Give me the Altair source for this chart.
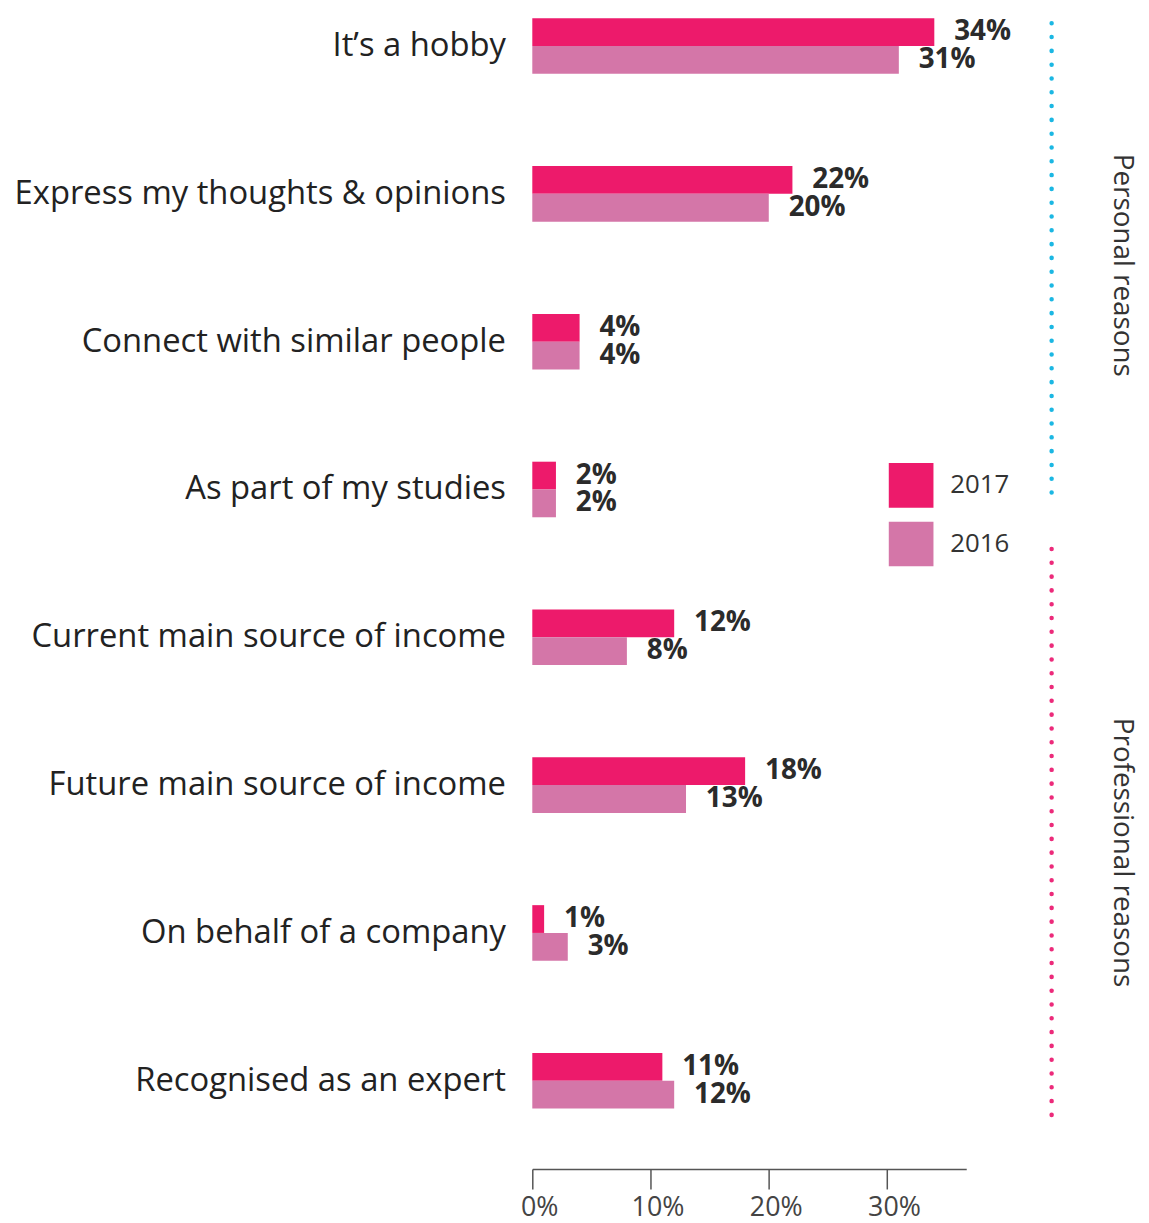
import altair as alt
import pandas as pd

categories = [
    "It’s a hobby",
    "Express my thoughts & opinions",
    "Connect with similar people",
    "As part of my studies",
    "Current main source of income",
    "Future main source of income",
    "On behalf of a company",
    "Recognised as an expert",
]
values_2017 = [34, 22, 4, 2, 12, 18, 1, 11]
values_2016 = [31, 20, 4, 2, 8, 13, 3, 12]
years = ["2017", "2016"]
year_colors = ["#ED1A6B", "#D476A8"]
tick_values = [0, 10, 20, 30]

groups = ["Personal reasons", "Professional reasons"]
group_first = ["It’s a hobby", "Current main source of income"]
group_last = ["As part of my studies", "Recognised as an expert"]
group_anchor = ["Connect with similar people", "On behalf of a company"]
group_colors = ["#1BB7E3", "#EC2A7A"]

rows = []
for c, a, b in zip(categories, values_2017, values_2016):
    rows.append({"category": c, "year": "2017", "value": a, "label": f"{a}%"})
    rows.append({"category": c, "year": "2016", "value": b, "label": f"{b}%"})
df = pd.DataFrame(rows)

ydom = alt.Scale(domain=categories, paddingInner=0.624, paddingOuter=0)

y_enc = alt.Y(
    "category:N",
    sort=categories,
    scale=ydom,
    axis=alt.Axis(
        title=None, domain=False, ticks=False, labelFontSize=33,
        labelFontWeight=500, labelColor="#222", labelPadding=27, labelLimit=700,
    ),
)
x_enc = alt.X(
    "value:Q",
    scale=alt.Scale(domain=[0, 36.7], nice=False, zero=True),
    axis=alt.Axis(
        title=None, grid=False, values=tick_values, labelExpr="datum.value + '%'",
        tickSize=20, tickColor="#555", tickWidth=1.5, domainColor="#555",
        domainWidth=1.5, labelFontSize=27, labelColor="#444", labelPadding=6,
        labelOffset=7, offset=61, labelFlush=False,
    ),
)
yoff = alt.YOffset("year:N", sort=years, scale=alt.Scale(paddingInner=0, paddingOuter=0))

base = alt.Chart(df)

bars = base.mark_bar().encode(
    y=y_enc,
    x=x_enc,
    yOffset=yoff,
    color=alt.Color(
        "year:N",
        sort=years,
        scale=alt.Scale(domain=years, range=year_colors),
        legend=alt.Legend(
            title=None, orient="none", legendX=359, legendY=448,
            symbolType="square", symbolSize=2025, symbolStrokeWidth=0,
            symbolOpacity=1, labelFontSize=26, labelColor="#333",
            rowPadding=14, labelOffset=17,
        ),
    ),
)

labels = base.mark_text(
    align="left", baseline="middle", dx=20, fontSize=28,
    fontWeight="bold", color="#2b2b2b",
).encode(
    y=alt.Y("category:N", sort=categories, scale=ydom),
    x=alt.X("value:Q"),
    yOffset=yoff,
    text="label:N",
)

layers = [bars, labels]

gdf = pd.DataFrame({
    "group": groups, "first": group_first, "last": group_last,
    "anchor": group_anchor, "color": group_colors,
})
rule_offsets = [(5, -15), (-61, 12)]
text_offsets = [-49, -53]

for i in range(2):
    sub = gdf.iloc[[i]]
    rule = alt.Chart(sub).mark_rule(
        strokeDash=[0.1, 13.8], strokeCap="round", strokeWidth=4.5,
        color=group_colors[i], yOffset=rule_offsets[i][0], y2Offset=rule_offsets[i][1],
    ).encode(
        x=alt.value(523),
        y=alt.Y("first:N", bandPosition=0, scale=ydom),
        y2=alt.Y2("last:N", bandPosition=1),
    )
    txt = alt.Chart(sub).mark_text(
        angle=90, align="center", baseline="middle", fontSize=28,
        fontWeight=500, color="#333", yOffset=text_offsets[i],
    ).encode(
        x=alt.value(594),
        y=alt.Y("anchor:N", bandPosition=0, scale=ydom),
        text="group:N",
    )
    layers += [rule, txt]

chart = alt.layer(*layers).properties(
    width=437, height=1098,
).configure(font="Open Sans").configure_view(stroke=None)

chart.save("out.html", embed_options={"renderer": "svg", "actions": False})
